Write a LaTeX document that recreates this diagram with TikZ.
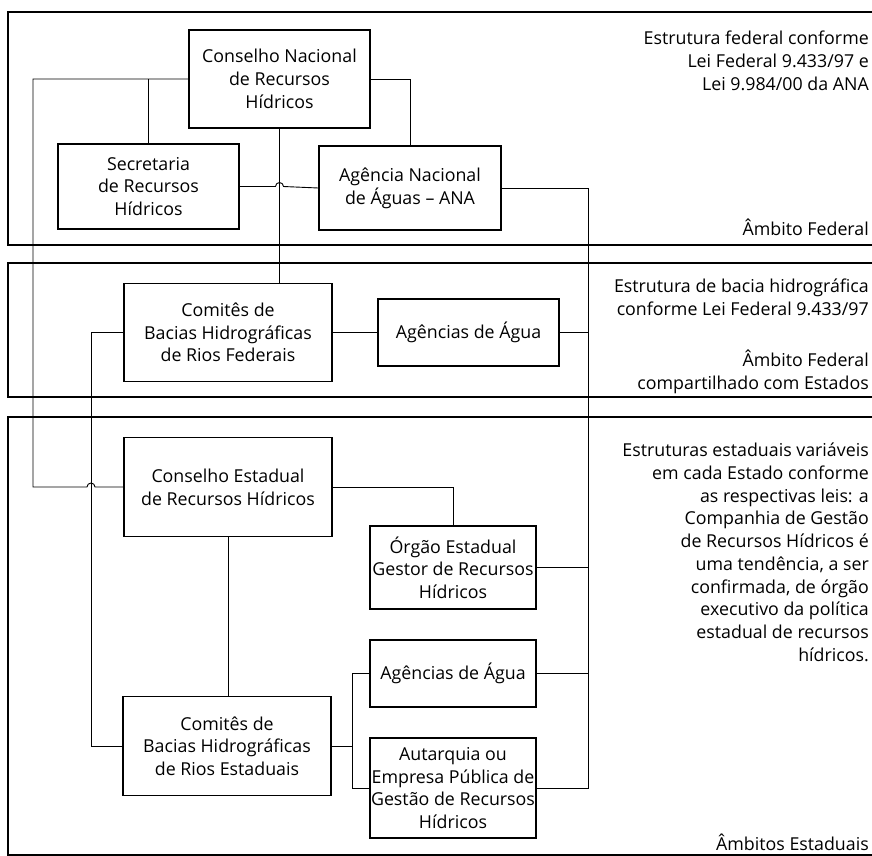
\documentclass[tikz,border=0pt]{standalone}
\usepackage{fontspec}
\setmainfont{Open Sans}
\begin{document}
\begin{tikzpicture}[x=1pt,y=-1pt,
  txt/.style={font=\fontsize{17.8}{22.7}\selectfont},
  box/.style={draw, line width=1.2pt, txt, align=center, inner sep=0pt},
  conn/.style={draw, line width=0.9pt},
  band/.style={draw, line width=1.8pt},
  note/.style={txt, align=right, inner sep=0pt, anchor=north east}]
\useasboundingbox (0,0) rectangle (872,855);

% bands (open on the right)
\draw[band] (872,12) -- (8,12) -- (8,245) -- (872,245);
\draw[band] (872,263) -- (8,263) -- (8,397) -- (872,397);
\draw[band] (872,417) -- (8,417) -- (8,855) -- (872,855);

% boxes
\node[box, minimum width=181pt, minimum height=98pt] (cnrh) at (279.5,79) {Conselho Nacional\\de Recursos\\Hídricos};
\node[box, minimum width=181pt, minimum height=85pt] (sec) at (148.5,186.5) {Secretaria\\de Recursos\\Hídricos};
\node[box, minimum width=182pt, minimum height=84pt] (ana) at (410,188) {Agência Nacional\\de Águas -- ANA};
\node[box, minimum width=208pt, minimum height=98pt] (cfed) at (228,332.5) {Comitês de\\Bacias Hidrográficas\\de Rios Federais};
\node[box, minimum width=181pt, minimum height=67pt] (afed) at (468.5,332.5) {Agências de Água};
\node[box, minimum width=208pt, minimum height=99pt] (ces) at (228,487) {Conselho Estadual\\de Recursos Hídricos};
\node[box, minimum width=166pt, minimum height=83pt] (org) at (453,567.5) {Órgão Estadual\\Gestor de Recursos\\Hídricos};
\node[box, minimum width=166pt, minimum height=67pt] (aes) at (453,673.5) {Agências de Água};
\node[box, minimum width=208pt, minimum height=99pt] (cest) at (227,746) {Comitês de\\Bacias Hidrográficas\\de Rios Estaduais};
\node[box, minimum width=166pt, minimum height=100pt] (aut) at (453,788) {Autarquia ou\\Empresa Pública de\\Gestão de Recursos\\Hídricos};

% bus lines
\coordinate (lbus) at (33,0);
\coordinate (mbus) at (91,0);
\coordinate (rbus) at (588,0);
\coordinate (sbus) at (352,0);

% national council to state council (hop over the committees line)
\draw[conn] (cnrh.west) -- (cnrh.west -| lbus) -- (ces.west -| lbus)
  -- ([xshift=-4pt]ces.west -| mbus) arc[start angle=180, end angle=0, radius=4pt]
  -- (ces.west);
\draw[conn] (sec.north) -- (sec.north |- cnrh.west);

% national council down to federal committees
\draw[conn] (cnrh.south) -- (cnrh.south |- cfed.north);

% secretaria to ANA (hop over the vertical line)
\draw[conn] (sec.east) -- ([xshift=-4pt]sec.east -| cnrh.south)
  arc[start angle=180, end angle=0, radius=4pt] -- (ana.west);

% national council to ANA
\draw[conn] (cnrh.east) -| (ana.north);

% ANA to agencies and state bodies
\draw[conn] (ana.east) -- (ana.east -| rbus) -- (aut.east -| rbus) -- (aut.east);
\draw[conn] (afed.east) -- (afed.east -| rbus);
\draw[conn] (org.east) -- (org.east -| rbus);
\draw[conn] (aes.east) -- (aes.east -| rbus);

% federal committees
\draw[conn] (cfed.east) -- (afed.west);
\draw[conn] (cfed.west) -- (cfed.west -| mbus) -- (cest.west -| mbus) -- (cest.west);

% state level
\draw[conn] (ces.east) -| (org.north);
\draw[conn] (ces.south) -- (ces.south |- cest.north);
\draw[conn] (cest.east) -- (cest.east -| sbus);
\draw[conn] (aes.west) -- (aes.west -| sbus) -- (aut.west -| sbus) -- (aut.west);

% notes on the right
\node[note] (n1) at (869,31) {Estrutura federal conforme\\Lei Federal 9.433/97 e\\Lei 9.984/00 da ANA};
\node[note] (n2) at (869,219) {Âmbito Federal};
\node[note] (n3) at (869,279) {Estrutura de bacia hidrográfica\\conforme Lei Federal 9.433/97};
\node[note] (n4) at (869,350) {Âmbito Federal\\compartilhado com Estados};
\node[note] (n5) at (869,443) {Estruturas estaduais variáveis\\em cada Estado conforme\\as respectivas leis: a\\Companhia de Gestão\\de Recursos Hídricos é\\uma tendência, a ser\\confirmada, de órgão\\executivo da política\\estadual de recursos\\hídricos.};
\node[txt, inner sep=0pt, anchor=base east] (n6) at (869,850) {Âmbitos Estaduais};
\end{tikzpicture}
\end{document}
